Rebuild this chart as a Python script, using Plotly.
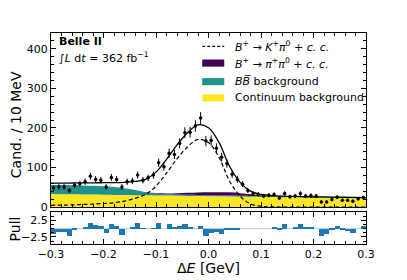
import numpy as np
import plotly.graph_objects as go

# ---------------- data ----------------
bin_width = 0.01
bin_centers = np.round(np.arange(-0.295, 0.30, bin_width), 3)

counts = [48, 51, 51, 42, 55, 59, 64, 78, 70, 68, 51, 75, 70, 51, 64, 66, 81, 68, 74, 81,
          112, 102, 136, 133, 161, 188, 189, 205, 225, 167, 168, 149, 126, 110, 83, 70, 58, 42,
          34, 32, 28, 30, 32, 23, 34, 26, 28, 34, 28, 29, 28, 13, 13, 19, 25, 17, 17, 15, 21, 24]

pulls = [-1.5, -1.0, -1.0, -2.2, -0.5, 0.0, 0.5, 1.8, 1.0, 0.7, -1.3, 1.3, 0.8, -1.8, 0.0,
         0.3, 1.6, 0.2, 0.0, 0.2, 1.8, 0.0, 1.5, 0.3, 0.8, 1.3, 0.3, 0.0, 0.7, -2.3,
         -1.2, -1.0, -1.5, -0.2, -0.2, -0.2, 0.0, 0.0, 0.0, 0.0, 0.0, 0.0, 0.5, -0.5, 1.3,
         0.0, 0.3, 1.4, 0.5, 0.5, 0.0, -2.2, -1.5, -0.5, 0.7, -0.5, -0.7, -1.2, 0.0, 0.8]

# fit component curves, read on a 0.02 grid
curve_x = [-0.30, -0.28, -0.26, -0.24, -0.22, -0.20, -0.18, -0.16, -0.14, -0.12, -0.10,
           -0.08, -0.06, -0.04, -0.02, 0.00, 0.02, 0.04, 0.06, 0.08, 0.10, 0.12, 0.14,
           0.16, 0.18, 0.20, 0.22, 0.24, 0.26, 0.28, 0.30]
continuum = [33.0, 32.6, 32.3, 31.9, 31.5, 31.2, 30.8, 30.4, 30.1, 29.7, 29.3, 29.0, 28.6,
             28.2, 27.9, 27.5, 27.1, 26.8, 26.4, 26.0, 25.7, 25.3, 24.9, 24.6, 24.2, 23.8,
             23.5, 23.1, 22.7, 22.4, 22.0]
bbbar = [23.0, 23.0, 23.0, 22.7, 22.3, 21.5, 20.0, 17.2, 12.8, 8.0, 5.0, 3.5, 3.0, 2.8,
         2.6, 2.5, 2.4, 2.4, 2.3, 2.3, 2.3, 2.2, 2.2, 2.2, 2.1, 2.1, 2.1, 2.1, 2.0, 2.0, 2.0]
pipi = [0, 0, 0, 0, 0, 0, 0, 0, 0.1, 0.5, 1.0, 2.0, 3.5, 5.0, 6.5, 7.5, 8.0, 8.0, 6.5, 4.0,
        2.0, 0.8, 0.3, 0.1, 0, 0, 0, 0, 0, 0, 0]
signal = [4.5, 5.0, 5.5, 6.5, 7.5, 9.0, 11.0, 15.0, 22.0, 32.0, 53.0, 86.0, 122.0, 152.0,
          171.0, 163.0, 126.0, 66.0, 28.0, 8.0, 2.0, 0.6, 0.2, 0.1, 0.1, 0.1, 0.1, 0.1,
          0.1, 0.1, 0.1]

legend_labels = [
    "<i>B</i><sup>+</sup> → <i>K</i><sup>+</sup><i>π</i><sup>0</sup> + <i>c. c.</i>",
    "<i>B</i><sup>+</sup> → <i>π</i><sup>+</sup><i>π</i><sup>0</sup> + <i>c. c.</i>",
    "<i>B</i><i>B\u0305</i> background",
    "Continuum background",
]

# ---------------- derived ----------------
cont_arr = np.array(continuum)
bb_top = cont_arr + np.array(bbbar)
pipi_top = bb_top + np.array(pipi)
total = pipi_top + np.array(signal)
errors = np.sqrt(np.array(counts, dtype=float))

YELLOW = "#FDE725"
TEAL = "#21918C"
PURPLE = "#440154"
FONT = "DejaVu Sans"

fig = go.Figure()

fig.add_trace(go.Scatter(x=curve_x, y=cont_arr, mode="lines", line=dict(width=0, shape="spline"),
                         fill="tozeroy", fillcolor=YELLOW, name=legend_labels[3],
                         showlegend=False, xaxis="x", yaxis="y"))
fig.add_trace(go.Scatter(x=curve_x, y=bb_top, mode="lines", line=dict(width=0, shape="spline"),
                         fill="tonexty", fillcolor=TEAL, name=legend_labels[2],
                         showlegend=False, xaxis="x", yaxis="y"))
fig.add_trace(go.Scatter(x=curve_x, y=pipi_top, mode="lines", line=dict(width=0, shape="spline"),
                         fill="tonexty", fillcolor=PURPLE, name=legend_labels[1],
                         showlegend=False, xaxis="x", yaxis="y"))
fig.add_trace(go.Scatter(x=curve_x, y=signal, mode="lines",
                         line=dict(color="black", width=1.2, dash="4px,2.5px", shape="spline"),
                         name=legend_labels[0], showlegend=False, xaxis="x", yaxis="y"))
fig.add_trace(go.Scatter(x=curve_x, y=total, mode="lines",
                         line=dict(color="black", width=1.3, shape="spline"),
                         showlegend=False, xaxis="x", yaxis="y"))
fig.add_trace(go.Scatter(x=bin_centers, y=counts, mode="markers",
                         marker=dict(color="black", size=3.5),
                         error_y=dict(type="data", array=errors, color="black", thickness=1, width=0),
                         showlegend=False, xaxis="x", yaxis="y"))

fig.add_trace(go.Bar(x=bin_centers, y=pulls, width=bin_width,
                     marker=dict(color="#1f77b4", line=dict(width=0)),
                     showlegend=False, xaxis="x2", yaxis="y2"))

axis_common = dict(showline=True, linecolor="black", linewidth=1.2, mirror="allticks",
                   ticks="inside", ticklen=5, tickwidth=1, tickcolor="black",
                   showgrid=False, zeroline=False,
                   tickfont=dict(family=FONT, size=11, color="black"))

# manual legend (data coordinates of the main panel)
leg_y = [406, 364, 317, 276]
leg_x0, leg_x1, leg_tx = -0.012, 0.030, 0.046
shapes = [
    dict(type="line", xref="x", yref="y", x0=leg_x0, x1=leg_x1, y0=leg_y[0], y1=leg_y[0],
         line=dict(color="black", width=1.2, dash="3px,2px")),
    dict(type="rect", xref="x", yref="y", x0=leg_x0, x1=leg_x1, y0=leg_y[1] - 9, y1=leg_y[1] + 9,
         fillcolor=PURPLE, line=dict(width=0)),
    dict(type="rect", xref="x", yref="y", x0=leg_x0, x1=leg_x1, y0=leg_y[2] - 9, y1=leg_y[2] + 9,
         fillcolor=TEAL, line=dict(width=0)),
    dict(type="rect", xref="x", yref="y", x0=leg_x0, x1=leg_x1, y0=leg_y[3] - 9, y1=leg_y[3] + 9,
         fillcolor=YELLOW, line=dict(width=0)),
    dict(type="line", xref="x2", yref="y2", x0=-0.3, x1=0.3, y0=0, y1=0,
         line=dict(color="#a6cde8", width=1), layer="below"),
]

annotations = [
    dict(text=lab, xref="x", yref="y", x=leg_tx, y=yv, xanchor="left", yanchor="middle",
         showarrow=False, font=dict(family=FONT, size=11, color="black"))
    for lab, yv in zip(legend_labels, leg_y)
]
annotations += [
    dict(text="<b>Belle II</b>", xref="paper", yref="paper", x=0.02, y=0.96,
         xanchor="left", yanchor="middle", showarrow=False,
         font=dict(family=FONT, size=11, color="black")),
    dict(text="∫<i>L</i> d<i>t</i> = 362 fb<sup>−1</sup>", xref="paper", yref="paper",
         x=0.02, y=0.885, xanchor="left", yanchor="middle", showarrow=False,
         font=dict(family=FONT, size=11, color="black")),
    dict(text="Cand. / 10 MeV", xref="paper", yref="paper", x=-0.113, y=0.565,
         xanchor="center", yanchor="middle", textangle=-90, showarrow=False,
         font=dict(family=FONT, size=14, color="black")),
    dict(text="Pull", xref="paper", yref="paper", x=-0.113, y=0.071,
         xanchor="center", yanchor="middle", textangle=-90, showarrow=False,
         font=dict(family=FONT, size=14, color="black")),
    dict(text="Δ<i>E</i> [GeV]", xref="paper", yref="paper", x=0.5, y=-0.114,
         xanchor="center", yanchor="middle", showarrow=False,
         font=dict(family=FONT, size=14, color="black")),
]

fig.update_layout(
    width=399, height=272,
    margin=dict(l=43, r=41, t=25, b=36),
    paper_bgcolor="white", plot_bgcolor="white",
    font=dict(family=FONT, color="black"),
    bargap=0,
    showlegend=False,
    xaxis=dict(domain=[0, 1], range=[-0.3, 0.3], anchor="y", showticklabels=False,
               dtick=0.1, minor=dict(ticks="inside", dtick=0.02, ticklen=2.5, tickcolor="black"),
               **axis_common),
    xaxis2=dict(domain=[0, 1], range=[-0.3, 0.3], anchor="y2", matches="x",
                dtick=0.1, tickformat=".1f",
                minor=dict(ticks="inside", dtick=0.02, ticklen=2.5, tickcolor="black"),
                **axis_common),
    yaxis=dict(domain=[0.175, 1], range=[0, 440], anchor="x", dtick=100,
               minor=dict(ticks="inside", dtick=20, ticklen=2.5, tickcolor="black"),
               **axis_common),
    yaxis2=dict(domain=[0, 0.152], range=[-4.6, 5.0], anchor="x2",
                tickvals=[-2.5, 2.5], ticktext=["\u22122.5", "2.5"],
                minor=dict(ticks="inside", dtick=1.25, ticklen=2.5, tickcolor="black"),
                **axis_common),
    shapes=shapes,
    annotations=annotations,
)

fig.write_html("out.html")
